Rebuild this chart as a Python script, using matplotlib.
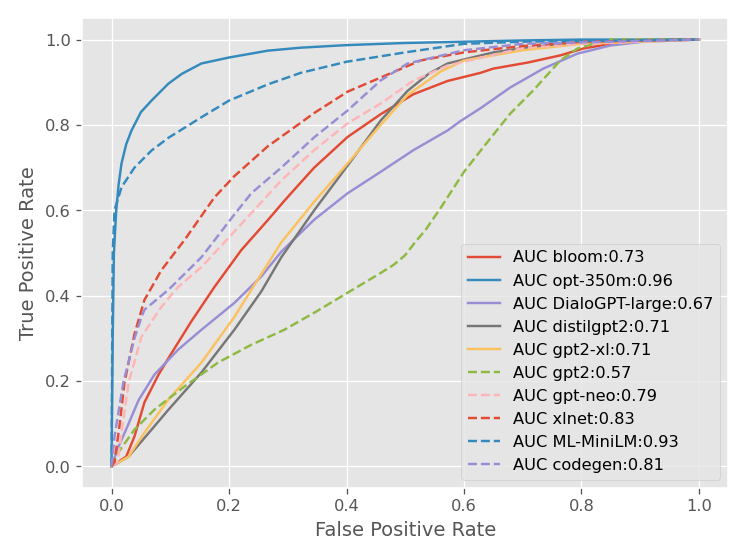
import matplotlib
matplotlib.use("Agg")
import matplotlib.pyplot as plt

plt.style.use("ggplot")

# ---------------------------------------------------------
# ROC points (fpr, tpr)
# ---------------------------------------------------------

bloom_fpr = [0, 0.025, 0.039, 0.056, 0.08, 0.102, 0.136, 0.175, 0.221, 0.266, 0.294,
             0.322, 0.345, 0.402, 0.458, 0.514, 0.572, 0.628, 0.65, 0.708, 0.764,
             0.803, 0.849, 0.905, 1.0]
bloom_tpr = [0, 0.023, 0.07, 0.15, 0.215, 0.265, 0.34, 0.42, 0.507, 0.577, 0.622,
             0.665, 0.70, 0.772, 0.825, 0.872, 0.903, 0.922, 0.932, 0.946, 0.963,
             0.979, 0.99, 0.999, 1.0]

opt_fpr = [0, 0.002, 0.004, 0.008, 0.012, 0.017, 0.025, 0.034, 0.05, 0.068, 0.097,
           0.12, 0.153, 0.2, 0.266, 0.322, 0.4, 0.5, 0.6, 0.7, 0.8, 1.0]
opt_tpr = [0, 0.3, 0.5, 0.6, 0.66, 0.71, 0.755, 0.787, 0.83, 0.857, 0.897,
           0.92, 0.944, 0.958, 0.974, 0.981, 0.987, 0.992, 0.995, 0.998, 1.0, 1.0]

dialo_fpr = [0, 0.01, 0.029, 0.046, 0.073, 0.113, 0.153, 0.209, 0.255, 0.289,
             0.345, 0.402, 0.458, 0.514, 0.572, 0.594, 0.628, 0.679, 0.735, 0.793,
             0.849, 0.905, 1.0]
dialo_tpr = [0, 0.04, 0.10, 0.155, 0.215, 0.273, 0.32, 0.383, 0.445, 0.503,
             0.578, 0.64, 0.69, 0.741, 0.787, 0.809, 0.839, 0.888, 0.932, 0.967,
             0.986, 0.995, 1.0]

distil_fpr = [0, 0.029, 0.068, 0.097, 0.153, 0.209, 0.255, 0.289, 0.345, 0.402,
              0.458, 0.504, 0.54, 0.572, 0.65, 0.7, 0.8, 1.0]
distil_tpr = [0, 0.023, 0.086, 0.133, 0.22, 0.32, 0.41, 0.49, 0.60, 0.705,
              0.81, 0.88, 0.92, 0.944, 0.97, 0.98, 0.993, 1.0]

gpt2xl_fpr = [0, 0.029, 0.056, 0.097, 0.153, 0.209, 0.25, 0.289, 0.345, 0.402,
              0.458, 0.504, 0.56, 0.6, 0.7, 0.8, 1.0]
gpt2xl_tpr = [0, 0.023, 0.079, 0.157, 0.243, 0.35, 0.44, 0.525, 0.62, 0.71,
              0.80, 0.87, 0.925, 0.951, 0.975, 0.99, 1.0]

gpt2_fpr = [0, 0.01, 0.039, 0.073, 0.124, 0.181, 0.238, 0.294, 0.345, 0.402, 0.458,
            0.48, 0.5, 0.515, 0.535, 0.56, 0.6, 0.633, 0.679, 0.718, 0.764, 0.793,
            0.82, 0.849, 1.0]
gpt2_tpr = [0, 0.03, 0.086, 0.133, 0.187, 0.243, 0.285, 0.32, 0.36, 0.407, 0.453,
            0.472, 0.495, 0.522, 0.555, 0.605, 0.69, 0.748, 0.827, 0.881, 0.951,
            0.979, 0.99, 1.0, 1.0]

neo_fpr = [0, 0.01, 0.029, 0.051, 0.085, 0.113, 0.153, 0.209, 0.249, 0.289, 0.345,
           0.402, 0.458, 0.514, 0.572, 0.7, 0.8, 1.0]
neo_tpr = [0, 0.01, 0.196, 0.304, 0.374, 0.42, 0.467, 0.55, 0.61, 0.67, 0.741,
           0.804, 0.85, 0.904, 0.939, 0.98, 0.99, 1.0]

xlnet_fpr = [0, 0.005, 0.014, 0.022, 0.039, 0.056, 0.085, 0.124, 0.175, 0.209,
             0.266, 0.322, 0.345, 0.402, 0.458, 0.526, 0.6, 0.7, 0.8, 1.0]
xlnet_tpr = [0, 0.01, 0.10, 0.196, 0.31, 0.39, 0.46, 0.53, 0.63, 0.68,
             0.75, 0.805, 0.828, 0.878, 0.911, 0.951, 0.97, 0.985, 0.995, 1.0]

minilm_fpr = [0, 0.002, 0.005, 0.017, 0.039, 0.068, 0.097, 0.153, 0.2, 0.266, 0.322,
              0.4, 0.5, 0.6, 0.7, 1.0]
minilm_tpr = [0, 0.5, 0.6, 0.654, 0.70, 0.74, 0.77, 0.818, 0.857, 0.895, 0.922,
              0.948, 0.97, 0.99, 0.995, 1.0]

codegen_fpr = [0, 0.005, 0.02, 0.039, 0.051, 0.056, 0.097, 0.153, 0.209, 0.238,
               0.289, 0.345, 0.402, 0.458, 0.504, 0.6, 0.7, 1.0]
codegen_tpr = [0, 0.07, 0.196, 0.30, 0.35, 0.367, 0.414, 0.49, 0.59, 0.64,
               0.70, 0.771, 0.834, 0.904, 0.944, 0.975, 0.99, 1.0]

models = ["bloom", "opt-350m", "DialoGPT-large", "distilgpt2", "gpt2-xl",
          "gpt2", "gpt-neo", "xlnet", "ML-MiniLM", "codegen"]
aucs = [0.73, 0.96, 0.67, 0.71, 0.71, 0.57, 0.79, 0.83, 0.93, 0.81]

curves = [
    (bloom_fpr, bloom_tpr),
    (opt_fpr, opt_tpr),
    (dialo_fpr, dialo_tpr),
    (distil_fpr, distil_tpr),
    (gpt2xl_fpr, gpt2xl_tpr),
    (gpt2_fpr, gpt2_tpr),
    (neo_fpr, neo_tpr),
    (xlnet_fpr, xlnet_tpr),
    (minilm_fpr, minilm_tpr),
    (codegen_fpr, codegen_tpr),
]

# =========================================================
# Plot ROC curves
# =========================================================

fig = plt.figure(figsize=(6.4, 4.8), dpi=116.72)
fig.subplots_adjust(left=0.11, right=0.975, bottom=0.129, top=0.967)

for i, (name, auc, (fpr, tpr)) in enumerate(zip(models, aucs, curves)):
    style = "-" if i < 5 else "--"
    plt.plot(fpr, tpr, style, label="AUC %s:%.2f" % (name, auc))

plt.xlabel("False Positive Rate")
plt.ylabel("True Positive Rate")
plt.legend(loc="lower right")

plt.savefig("out.png", dpi=116.72)
